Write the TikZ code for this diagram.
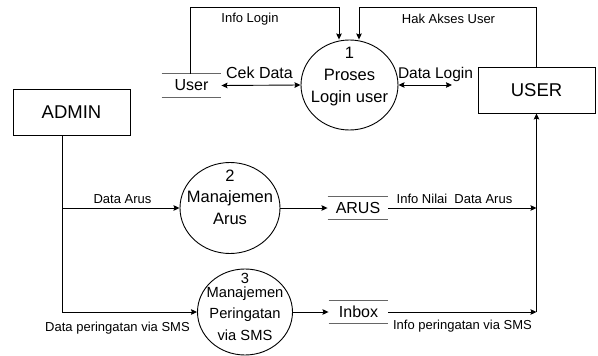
\documentclass[tikz,border=0pt]{standalone}
\usepackage{fontspec}
\setmainfont{Liberation Sans}
\usetikzlibrary{arrows.meta,shapes.geometric,calc}
\begin{document}
\begin{tikzpicture}[x=1pt,y=-1pt,
  line width=0.9pt,
  arr/.style={-{Stealth[length=6pt,width=5.5pt,inset=0.8pt]}},
  dbl/.style={{Stealth[length=6pt,width=5.5pt,inset=0.8pt]}-{Stealth[length=6pt,width=5.5pt,inset=0.8pt]}},
  ent/.style={draw, minimum width=117pt, minimum height=46pt, inner sep=0pt, font=\fontsize{18.5}{20}\selectfont},
  proc/.style={draw, ellipse, inner sep=0pt},
  ptext/.style={align=center, inner sep=0pt},
  storeline/.style={draw=black!60, line width=1pt},
  store/.style={inner sep=0pt, minimum height=23pt, font=\fontsize{16}{18}\selectfont,
    append after command={(\tikzlastnode.north west) edge[storeline] (\tikzlastnode.north east)
      (\tikzlastnode.south west) edge[storeline] (\tikzlastnode.south east)}},
  lbl/.style={inner sep=0pt, anchor=base, font=\fontsize{13}{15}\selectfont},
  mlbl/.style={inner sep=0pt, anchor=base, font=\fontsize{16}{18}\selectfont}
]
\useasboundingbox (0,0) rectangle (598,356);

% entities
\node[ent] (admin) at (71.5,112) {ADMIN};
\node[ent] (userE) at (536.5,90) {USER};

% processes
\node[proc, minimum width=97pt, minimum height=90pt] (p1) at (349.5,85) {};
\node[ptext, font=\fontsize{16.5}{22}\selectfont] (p1t) at (349.5,76.2) {1\\Proses\\Login user};
\node[proc, minimum width=100pt, minimum height=91pt] (p2) at (230,208) {};
\node[ptext, font=\fontsize{16.5}{21.5}\selectfont] (p2t) at (230,197) {2\\Manajemen\\Arus};
\node[proc, minimum width=95pt, minimum height=86pt] (p3) at (245,312) {};
\node[ptext, font=\fontsize{14.7}{21.5}\selectfont] (p3t) at (245,306.5) {3\\[-7.5pt]Manajemen\\Peringatan\\via SMS};

% data stores
\node[store, minimum width=59pt] (us) at (191.5,85.5) {User};
\node[store, minimum width=60pt] (arus) at (358,208) {ARUS};
\node[store, minimum width=59pt, minimum height=22pt] (inbox) at (358.5,312) {Inbox};

% connectors
\draw[arr] ([xshift=-1.5pt]us.north) -- ++(0,-66) -| ([xshift=-10.5pt]p1.north);
\draw[arr] (userE.north) -- ++(0,-59) -| ([xshift=9.5pt]p1.north);
\draw[dbl] (us.east) -- (p1.west);
\coordinate (dl) at (452,85);
\draw[dbl] (p1.east) -- (dl);

\draw[arr] ([xshift=-9.5pt]admin.south) |- (p2.west);
\draw[arr] ([xshift=-9.5pt]admin.south) |- (p3.west);
\draw[arr] (p2.east) -- (arus.west);
\draw[arr] (p3.east) -- (inbox.west);
\coordinate (j1) at (userE.south |- arus.east);
\coordinate (j2) at (userE.south |- inbox.east);
\draw[arr] (arus.east) -- (j1);
\draw[arr] (inbox.east) -- (j2);
\draw[arr] (j2) -- (userE.south);

% labels
\node[lbl] (l1) at (250,22.7) {Info Login};
\node[lbl] (l2) at (448.5,23.3) {Hak Akses User};
\node[mlbl] (l3) at (259.5,78.3) {Cek Data};
\node[mlbl, font=\fontsize{15.5}{18}\selectfont] (l4) at (435.5,78.3) {Data Login};
\node[lbl] (l5) at (122.5,203.3) {Data Arus};
\node[lbl] (l6) at (454.5,203.3) {Info Nilai\ \ Data Arus};
\node[lbl] (l7) at (117.5,331) {Data peringatan via SMS};
\node[lbl] (l8) at (462.5,329.3) {Info peringatan via SMS};
\end{tikzpicture}
\end{document}
